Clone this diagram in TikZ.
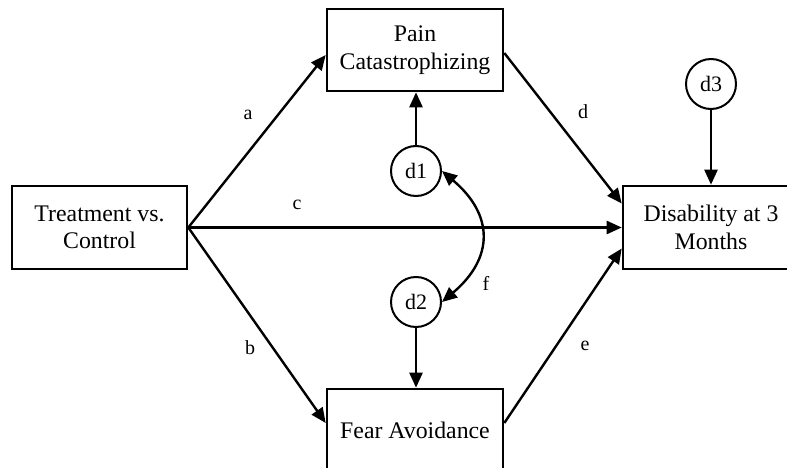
\documentclass[tikz,border=0pt]{standalone}
\usepackage{fontspec}
\setmainfont{Liberation Serif}
\usetikzlibrary{arrows.meta}
\begin{document}
\begin{tikzpicture}[x=1pt,y=-1pt,
  box/.style={draw,line width=2.6pt,minimum width=176pt,minimum height=82pt,align=center,inner sep=0pt,
    font=\fontsize{23.8pt}{27.5pt}\selectfont},
  err/.style={draw,circle,line width=2pt,minimum size=50pt,inner sep=0pt,font=\fontsize{22pt}{26pt}\selectfont},
  lab/.style={font=\fontsize{20pt}{24pt}\selectfont},
  arr/.style={line width=2.4pt,-{Triangle[length=15pt,width=13pt]}},
  darr/.style={line width=2.4pt,{Triangle[length=15pt,width=13pt]}-{Triangle[length=15pt,width=13pt]}}]
\useasboundingbox (0,0) rectangle (787,468);
\node[box,minimum width=175pt,minimum height=83pt] (tc) at (99.5,227.5) {Treatment vs.\\Control};
\node[box] (pain) at (415,50) {Pain\\Catastrophizing};
\node[box] (fear) at (415,430) {Fear Avoidance};
\node[box,minimum height=83pt] (dis) at (711,227.5) {Disability at 3\\Months};
\node[err] (d1) at (416,171) {d1};
\node[err] (d2) at (416,302) {d2};
\node[err] (d3) at (711,84) {d3};
\draw[arr] (tc.east) -- ([yshift=-5pt]pain.west);
\draw[arr] (tc.east) -- ([yshift=7pt]fear.west);
\draw[arr] (tc.east) -- (dis.west);
\draw[arr] ([yshift=-3pt]pain.east) -- ([yshift=24pt]dis.west);
\draw[arr] ([yshift=7pt]fear.east) -- ([yshift=-21pt]dis.west);
\draw[arr] (d1.north) -- (d1.north|-pain.south);
\draw[arr] (d2.south) -- (d2.south|-fear.north);
\draw[arr] (d3.south) -- (dis.north);
\draw[darr] (d1.east) .. controls (494,215) and (494,258) .. (d2.east);
\node[lab] (la) at (248,115) {a};
\node[lab] (lb) at (250,348) {b};
\node[lab] (lc) at (297,205) {c};
\node[lab] (ld) at (583,112) {d};
\node[lab] (le) at (585,346) {e};
\node[lab] (lf) at (486,283) {f};
\end{tikzpicture}
\end{document}
